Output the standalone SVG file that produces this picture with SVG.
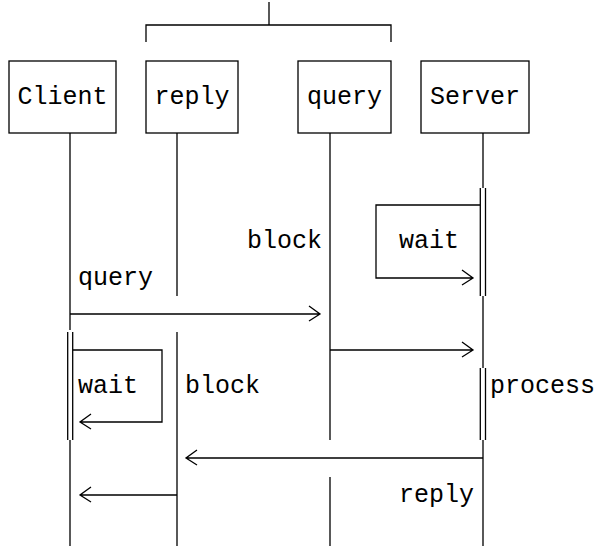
<svg xmlns="http://www.w3.org/2000/svg" width="598" height="546" viewBox="0 0 598 546">
<style>
.ln{stroke:#000;stroke-width:1.3;fill:none}
.bx{stroke:#000;stroke-width:1.3;fill:#fff}
text{font-family:"Liberation Mono","DejaVu Sans Mono",monospace;font-size:25px;fill:#000}
.c{text-anchor:middle}
</style>
<rect width="598" height="546" fill="#fff"/>
<g id="bracket">
<path class="ln" d="M269 2V25M146 42V25H391V42"/>
</g>
<g id="Client">
<rect class="bx" x="9" y="61" width="107" height="72"/>
<text class="c" x="62.5" y="104">Client</text>
<path class="ln" d="M70 133V330M67.7 332V440M72.7 332V440M70 440V546"/>
</g>
<g id="reply">
<rect class="bx" x="146" y="61" width="92" height="72"/>
<text class="c" x="192" y="104">reply</text>
<path class="ln" d="M177 133V296M177 332V546"/>
</g>
<g id="query">
<rect class="bx" x="298" y="61" width="93" height="72"/>
<text class="c" x="344.5" y="104">query</text>
<path class="ln" d="M330 133V440M330 477V546"/>
</g>
<g id="Server">
<rect class="bx" x="421" y="61" width="108" height="72"/>
<text class="c" x="475" y="104">Server</text>
<path class="ln" d="M483 133V188M480.3 188V296M485.5 188V296M483 296V368M480.3 368V440M485.5 368V440M483 440V546"/>
</g>
<g id="connectors">
<path class="ln" d="M480 205H376V278H473M462 270L473 278L462 285"/>
<path class="ln" d="M70 314H320M309 306L320 314L309 321"/>
<path class="ln" d="M330 350H473M462 342L473 350L462 357"/>
<path class="ln" d="M73 350H162V422H80M91 414L80 422L91 429"/>
<path class="ln" d="M483 458H186M197 450L186 458L197 465"/>
<path class="ln" d="M177 495H80M91 487L80 495L91 502"/>
</g>
<g id="labels">
<text x="78" y="285">query</text>
<text x="247" y="248">block</text>
<text x="399" y="248">wait</text>
<text x="78" y="393">wait</text>
<text x="185" y="393">block</text>
<text x="490" y="393">process</text>
<text x="399" y="502">reply</text>
</g>
</svg>
